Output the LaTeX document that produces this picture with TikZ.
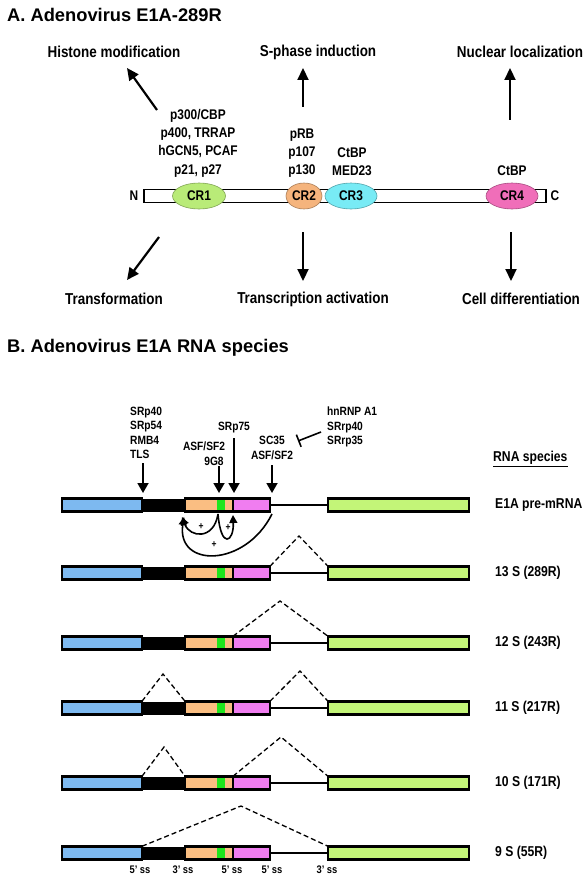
\documentclass[tikz,border=0pt]{standalone}
\usepackage{fontspec}
\setmainfont{Liberation Sans}[FakeStretch=0.85]
\newfontfamily\titlefont{Liberation Sans}
\usetikzlibrary{shapes.geometric,arrows.meta}
\definecolor{crgreen}{RGB}{185,235,120}
\definecolor{crorange}{RGB}{245,180,125}
\definecolor{crcyan}{RGB}{120,235,245}
\definecolor{crpink}{RGB}{240,110,185}
\definecolor{cblue}{RGB}{125,185,240}
\definecolor{corange}{RGB}{250,190,130}
\definecolor{cstrip}{RGB}{30,230,30}
\definecolor{cpink}{RGB}{240,125,240}
\definecolor{clime}{RGB}{195,245,120}
\tikzset{
  ttl/.style={font=\titlefont\bfseries\fontsize{18.3}{22}\selectfont, inner sep=0, anchor=west},
  func/.style={font=\bfseries\fontsize{15.8}{18}\selectfont, inner sep=0},
  prot/.style={font=\bfseries\fontsize{14}{18.3}\selectfont, align=center, inner sep=0},
  small/.style={font=\bfseries\fontsize{12}{14.3}\selectfont, inner sep=0},
  rowlab/.style={font=\bfseries\fontsize{14.3}{17}\selectfont, inner sep=0, anchor=west},
  sslab/.style={font=\bfseries\fontsize{11}{13}\selectfont, inner sep=0},
  plus/.style={font=\bfseries\fontsize{10}{12}\selectfont, inner sep=0},
  cr/.style={ellipse, minimum height=26pt, inner sep=0, outer sep=0, line width=0.6pt, font=\bfseries\fontsize{14}{16}\selectfont},
  bigarrow/.style={line width=2.2pt, -{Triangle[length=12pt,width=11pt]}},
  smallarrow/.style={line width=1.8pt, -{Triangle[length=10pt,width=11pt]}},
  curv/.style={line width=1.6pt, -{Triangle[length=8pt,width=8pt]}},
  exon/.style={draw, line width=2.6pt, minimum height=13.5pt, inner sep=0, outer sep=0},
  exonf/.style={minimum height=13.5pt, inner sep=0, outer sep=0},
  boxline/.style={line width=2.6pt},
  dsh/.style={dash pattern=on 5pt off 3pt, line width=1.3pt},
}
\newcommand\rnarow[2]{%
  \node[exon, fill=cblue, minimum width=80pt] (#2b) at (102,#1) {};
  \node[fill=black, minimum width=41pt, minimum height=13pt, inner sep=0, outer sep=0] (#2k) at (163.5,#1) {};
  \node[exonf, fill=corange, minimum width=48pt] (#2o) at (209,#1) {};
  \node[exonf, fill=cstrip, minimum width=8pt] (#2g) at (221,#1) {};
  \node[exonf, fill=cpink, minimum width=37pt] (#2p) at (251.5,#1) {};
  \draw[boxline] (#2o.north west) rectangle (#2p.south east);
  \draw[boxline] (#2o.north east) -- (#2o.south east);
  \node[exon, fill=clime, minimum width=141pt] (#2e) at (398.5,#1) {};
  \draw[line width=2pt] (#2p.east) -- (#2e.west);
}
\begin{document}
\begin{tikzpicture}[x=1pt,y=-1pt]
\useasboundingbox (0,0) rectangle (588,880);
% ---------------- Part A ----------------
\node[ttl] (titA) at (7,15) {A. Adenovirus E1A-289R};
\node[func] (hist) at (114,52) {Histone modification};
\node[func] (sph) at (318,52) {S-phase induction};
\node[func] (nuc) at (520,52) {Nuclear localization};
\node[func] (trf) at (114,299) {Transformation};
\node[func] (tra) at (313,299) {Transcription activation};
\node[func] (cdf) at (521,299) {Cell differentiation};

\node[draw, fill=white, line width=1.5pt, minimum width=402pt, minimum height=13pt, inner sep=0, outer sep=0] (bar) at (345,196) {};
\node[prot] (Nend) at (134,196) {N};
\node[prot] (Cend) at (555,196) {C};
\node[cr, fill=crgreen, draw=crgreen!70!black, minimum width=53pt] (cr1) at (199,196) {CR1};
\node[cr, fill=crorange, draw=crorange!70!black, minimum width=36pt] (cr2) at (304,196) {CR2};
\node[cr, fill=crcyan, draw=crcyan!70!black, minimum width=52pt] (cr3) at (351,196) {CR3};
\node[cr, fill=crpink, draw=crpink!70!black, minimum width=52pt] (cr4) at (512,196) {CR4};

\node[prot] (p1) at (198,143) {p300/CBP\\p400, TRRAP\\hGCN5, PCAF\\p21, p27};
\node[prot] (p2) at (302,153) {pRB\\p107\\p130};
\node[prot] (p3) at (352,162) {CtBP\\MED23};
\node[prot] (p4) at (512,171) {CtBP};

\coordinate (ha) at (157,110); \coordinate (hb) at (127,68);
\coordinate (sa) at (303,107); \coordinate (sb) at (303,68);
\coordinate (na) at (510,120); \coordinate (nb) at (510,68);
\coordinate (ta) at (159,237); \coordinate (tb) at (127,280);
\coordinate (aa) at (303,232); \coordinate (ab) at (303,281);
\coordinate (ca) at (511,232); \coordinate (cb) at (511,281);
\draw[bigarrow] (ha) -- (hb);
\draw[bigarrow] (sa) -- (sb);
\draw[bigarrow] (na) -- (nb);
\draw[bigarrow] (ta) -- (tb);
\draw[bigarrow] (aa) -- (ab);
\draw[bigarrow] (ca) -- (cb);

% ---------------- Part B ----------------
\node[ttl] (titB) at (7,348) {B. Adenovirus E1A RNA species};

\node[small, align=left, anchor=west] (f1) at (130,433) {SRp40\\SRp54\\RMB4\\TLS};
\node[small] (f2) at (204,446) {ASF/SF2};
\node[small] (f2b) at (214,461) {9G8};
\node[small] (f3) at (234,428) {SRp75};
\node[small, align=center] (f4) at (272,448) {SC35\\ASF/SF2};
\node[small, align=left, anchor=west] (f5) at (327,427) {hnRNP A1\\SRrp40\\SRrp35};
\node[rowlab] (rs) at (493,459) {\underline{RNA species}};

\coordinate (a1a) at (143,463); \coordinate (a1b) at (143,493);
\coordinate (a2a) at (219,466); \coordinate (a2b) at (219,493);
\coordinate (a3a) at (234,438); \coordinate (a3b) at (234,493);
\coordinate (a4a) at (272,465); \coordinate (a4b) at (272,493);
\draw[smallarrow] (a1a) -- (a1b);
\draw[smallarrow] (a2a) -- (a2b);
\draw[smallarrow] (a3a) -- (a3b);
\draw[smallarrow] (a4a) -- (a4b);
\coordinate (ia) at (321,432); \coordinate (ib) at (298,441);
\draw[line width=1.6pt, -{Bar[width=13pt]}] (ia) -- (ib);

\rnarow{505}{ra}
\rnarow{573}{rb}
\rnarow{643}{rc}
\rnarow{708}{rd}
\rnarow{783}{re}
\rnarow{853}{rf}

% curved arrows
\coordinate (cgs) at (218,514);
\coordinate (cpe) at (272,514);
\coordinate (tipA) at (182,517);
\coordinate (tipA2) at (184,517);
\coordinate (tipB) at (233,515);
\draw[curv] (cgs) .. controls (214,540) and (190,538) .. (tipA);
\draw[curv] (cgs) .. controls (221,550) and (234,542) .. (tipB);
\draw[curv] (cpe) .. controls (245,568) and (176,568) .. (tipA2);
\node[plus] (pl1) at (201,527) {+};
\node[plus] (pl2) at (228,528) {+};
\node[plus] (pl3) at (214,545) {+};

% splicing (dashed)
\coordinate (kb) at (299,536);
\coordinate (kc) at (280,601);
\coordinate (kd1) at (163,674); \coordinate (kd2) at (300,671);
\coordinate (ke1) at (164,747); \coordinate (ke2) at (281,737);
\coordinate (kf) at (241,806);
\draw[dsh] (rbp.north east) -- (kb) -- (rbe.north west);
\draw[dsh] (rco.north east) -- (kc) -- (rce.north west);
\draw[dsh] (rdb.north east) -- (kd1) -- (rdo.north west);
\draw[dsh] (rdp.north east) -- (kd2) -- (rde.north west);
\draw[dsh] (reb.north east) -- (ke1) -- (reo.north west);
\draw[dsh] (reo.north east) -- (ke2) -- (ree.north west);
\draw[dsh] (rfb.north east) -- (kf) -- (rfe.north west);

% row labels
\node[rowlab] (la) at (495,505) {E1A pre-mRNA};
\node[rowlab] (lb) at (495,573) {13 S (289R)};
\node[rowlab] (lc) at (495,643) {12 S (243R)};
\node[rowlab] (ld) at (495,708) {11 S (217R)};
\node[rowlab] (le) at (495,783) {10 S (171R)};
\node[rowlab] (lf) at (495,853) {9 S (55R)};

% splice-site labels
\node[sslab] (s1) at (140,870) {5' ss};
\node[sslab] (s2) at (183,870) {3' ss};
\node[sslab] (s3) at (232,870) {5' ss};
\node[sslab] (s4) at (272,870) {5' ss};
\node[sslab] (s5) at (327,870) {3' ss};
\end{tikzpicture}
\end{document}
